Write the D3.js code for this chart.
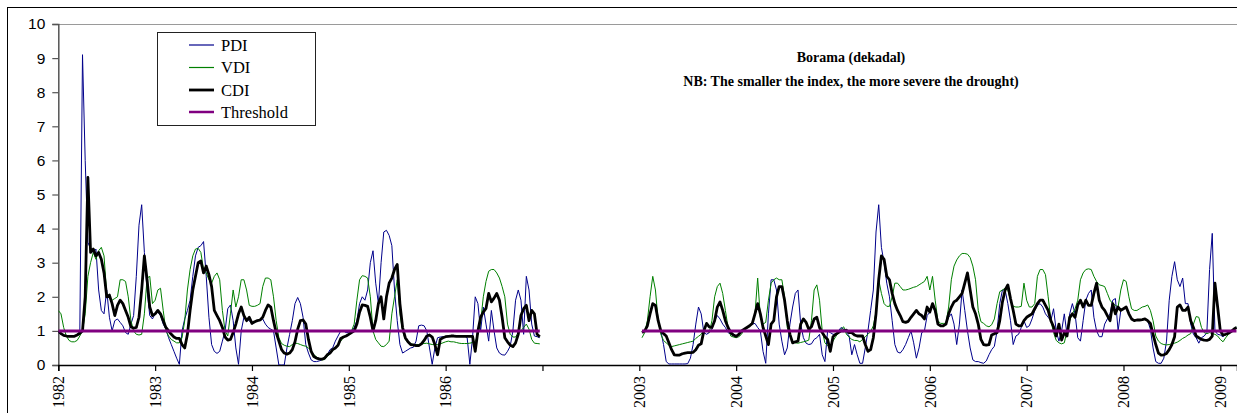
<!DOCTYPE html>
<html>
<head>
<meta charset="utf-8">
<script src="https://cdn.jsdelivr.net/npm/d3@7"></script>
<style>
  html, body { margin: 0; padding: 0; background: #fff; }
  svg { display: block; }
</style>
</head>
<body>
<svg id="chart" width="1237" height="413"></svg>
<script>
// Borama dekadal drought indices (PDI, VDI, CDI) with the drought threshold.
// Dekads are counted from the first dekad of 1982; the axis jumps one blank
// year between 1986 and 2003.

const dekadsPerYear = 36;
const tickLabels = ["1982", "1983", "1984", "1985", "1986", "", "2003", "2004", "2005", "2006", "2007", "2008", "2009"];
const yTicks = [0, 1, 2, 3, 4, 5, 6, 7, 8, 9, 10];

// first dekad index of each observation block
const start1 = 0;     // 1982-1986
const start2 = 217;   // 2003-2009

const pdi1 = [0.95,0.9,0.87,0.85,0.84,0.84,0.85,0.88,1.0,9.1,6.0,3.6,3.4,3.3,3.4,2.2,1.6,1.5,2.2,1.4,
  1.0,1.3,1.35,1.25,1.15,0.95,0.9,1.2,1.45,2.6,4.1,4.7,3.3,2.2,1.45,1.35,1.5,1.55,1.45,1.2,
  1.05,0.8,0.6,0.4,0.2,0.02,1.0,1.35,1.6,1.9,2.6,3.2,3.45,3.5,3.62,2.6,1.4,0.6,0.4,0.34,
  0.4,0.7,1.0,1.65,1.76,1.3,0.5,0.02,1.0,1.4,1.35,1.3,1.2,1.25,1.3,1.3,1.35,1.2,1.1,1.05,
  1.0,0.5,0.0,0.0,0.0,0.5,0.9,1.3,1.8,1.98,1.8,1.4,0.6,0.35,0.15,0.1,0.1,0.12,0.15,0.2,
  0.3,0.45,0.5,0.7,0.85,1.0,1.0,0.95,0.95,1.0,1.1,1.3,1.8,2.0,1.9,2.2,3.0,3.35,2.4,1.8,
  3.0,3.9,3.95,3.8,3.5,2.2,1.3,0.6,0.35,0.4,0.45,0.5,0.52,0.7,1.15,1.17,1.15,1.0,0.5,0.02,
  0.5,0.8,0.82,0.83,0.84,0.84,0.85,0.85,0.85,0.85,0.85,0.85,0.8,0.02,0.8,2.0,1.8,1.0,1.7,1.2,
  0.7,1.6,1.0,0.5,0.35,0.3,0.29,0.4,0.55,1.0,1.9,2.2,1.9,0.9,2.6,2.2,1.2,0.85,0.83,0.8];

const vdi1 = [1.6,1.5,1.1,0.85,0.72,0.68,0.68,0.72,0.85,1.0,1.5,2.6,3.0,3.3,3.1,3.35,3.45,3.2,2.1,1.95,
  1.9,1.95,2.0,2.5,2.5,2.45,2.0,1.3,1.0,0.9,0.88,0.9,1.5,2.55,2.6,1.8,1.9,2.2,2.25,1.6,
  1.0,0.85,0.75,0.7,0.65,0.65,0.8,1.3,2.2,2.8,3.2,3.4,3.42,3.3,2.8,2.7,2.5,2.4,2.6,2.7,
  2.5,1.6,1.0,0.85,1.5,2.2,1.7,2.0,2.5,2.5,2.2,1.75,1.72,1.72,1.75,1.8,2.3,2.55,2.55,2.5,
  2.0,1.3,0.8,0.63,0.58,0.55,0.54,0.6,0.64,0.63,0.6,0.57,0.55,0.5,0.42,0.3,0.24,0.18,0.15,0.16,
  0.25,0.32,0.42,0.5,0.6,0.7,0.8,0.85,0.9,1.0,1.2,1.9,2.5,2.62,2.6,2.55,2.0,1.0,0.75,0.65,
  0.55,0.54,0.6,0.7,1.5,2.0,2.5,1.5,1.0,0.75,0.66,0.63,0.6,0.6,0.6,0.62,0.63,0.64,0.62,0.6,
  0.6,0.6,0.62,0.65,0.68,0.7,0.68,0.68,0.66,0.64,0.63,0.63,0.63,0.64,0.66,0.68,0.9,1.25,2.0,2.45,
  2.75,2.8,2.8,2.7,2.55,2.3,2.0,1.2,0.9,0.82,0.82,0.95,1.0,1.1,1.2,1.05,0.75,0.64,0.63,0.62];

const cdi1 = [1.0,0.92,0.87,0.85,0.84,0.84,0.84,0.88,0.93,1.0,2.0,5.5,3.3,3.4,3.2,3.3,3.1,2.7,2.0,2.05,
  1.8,1.45,1.75,1.9,1.8,1.6,1.4,1.12,1.08,1.1,1.4,2.2,3.2,2.5,1.7,1.45,1.5,1.6,1.5,1.3,
  1.1,1.0,0.9,0.82,0.78,0.78,0.6,0.5,0.9,1.6,2.2,2.6,3.0,3.05,2.7,2.9,2.65,2.3,1.6,1.45,
  1.3,1.1,0.82,0.73,0.75,0.95,1.2,1.5,1.7,1.45,1.3,1.4,1.22,1.27,1.3,1.32,1.4,1.6,1.76,1.7,
  1.3,0.95,0.7,0.45,0.35,0.32,0.35,0.45,0.68,1.05,1.3,1.32,1.2,0.75,0.4,0.25,0.2,0.18,0.17,0.2,
  0.3,0.35,0.45,0.5,0.58,0.78,0.82,0.85,0.9,0.95,1.0,1.2,1.55,1.76,1.75,1.72,1.4,1.0,1.3,1.8,
  2.0,1.35,2.0,2.4,2.55,2.8,2.95,1.8,1.1,0.8,0.68,0.6,0.59,0.57,0.57,0.62,0.72,0.85,0.88,0.82,
  0.6,0.3,0.75,0.8,0.83,0.84,0.85,0.85,0.84,0.84,0.84,0.84,0.84,0.84,0.84,0.4,1.0,1.4,1.55,1.66,
  2.1,1.85,1.96,2.1,1.9,1.4,0.8,0.68,0.58,0.54,0.65,0.9,1.45,1.65,1.75,1.3,1.6,1.5,0.9,0.83];

const pdi2 = [0.95,1.0,1.15,1.5,1.8,1.7,1.3,1.0,0.6,0.1,0.03,0.03,0.03,0.03,0.03,0.03,0.03,0.04,0.2,0.6,
  1.2,1.7,1.5,0.95,0.9,0.95,1.05,1.3,1.45,1.35,1.2,1.1,0.95,0.9,0.86,0.85,0.9,1.0,1.05,1.08,
  1.15,1.2,1.22,1.1,1.0,0.4,0.05,1.5,2.5,2.5,2.2,1.2,0.7,0.3,0.5,1.2,1.7,2.1,2.2,1.2,
  0.8,0.64,0.6,0.62,0.75,0.8,0.9,0.3,0.1,1.0,0.95,0.9,0.9,1.0,1.1,1.05,0.95,0.85,0.3,0.6,
  0.3,0.05,0.05,0.5,1.0,1.6,2.2,3.9,4.7,3.45,3.0,2.4,2.0,1.3,0.6,0.38,0.35,0.45,0.6,0.8,
  1.0,0.65,0.2,0.5,0.95,1.0,1.45,1.55,1.75,1.55,1.2,1.15,1.15,1.2,1.4,1.5,1.2,0.6,1.2,2.2,
  1.6,1.0,0.5,0.15,0.1,0.1,0.07,0.05,0.12,0.3,0.45,0.55,1.0,1.8,2.2,2.2,1.8,1.3,0.6,0.85,
  0.9,1.1,1.3,1.1,1.15,1.35,1.6,1.75,1.8,1.7,1.5,1.4,1.3,1.65,1.0,0.7,1.0,1.5,0.9,1.5,
  1.8,1.5,0.8,0.7,1.3,1.9,2.1,2.2,1.4,1.0,0.83,0.83,1.2,1.35,1.5,1.9,1.95,1.0,1.6,1.65,
  1.7,1.5,1.35,1.3,1.32,1.32,1.33,1.35,1.3,1.05,0.5,0.1,0.05,0.05,0.2,0.7,1.9,2.6,3.03,2.5,
  2.3,2.55,1.8,1.8,1.2,0.9,0.8,0.64,0.8,0.85,0.95,2.8,3.86,1.0,0.9,0.88,0.83,0.9,0.98,1.0,
  1.05,1.1];

const vdi2 = [0.8,0.95,1.3,2.0,2.6,2.2,1.3,0.9,0.72,0.65,0.58,0.54,0.56,0.58,0.6,0.62,0.64,0.66,0.68,0.7,
  0.78,0.84,0.9,1.05,1.0,0.95,1.3,2.0,2.3,2.4,2.1,1.6,1.1,0.85,0.82,0.8,0.83,0.9,1.05,1.1,
  1.12,1.25,1.5,2.55,1.4,1.2,1.25,1.9,2.4,2.5,2.55,2.5,2.5,2.0,1.1,0.85,0.7,0.65,0.64,0.66,
  0.68,0.7,0.73,1.3,2.2,2.35,1.9,1.0,0.65,0.57,0.54,0.7,0.83,0.95,1.05,1.12,0.9,0.82,0.75,0.72,
  0.72,0.68,0.75,0.83,0.9,0.98,1.15,1.55,2.5,2.1,1.8,1.72,1.72,2.0,2.4,2.4,2.3,2.2,2.2,2.22,
  2.25,2.28,2.3,2.35,2.4,2.45,2.6,2.2,2.6,1.9,1.3,1.22,1.22,1.22,1.7,2.5,2.9,3.08,3.2,3.27,
  3.27,3.25,3.15,2.9,2.5,1.6,1.27,1.22,1.15,1.12,1.18,1.35,1.8,2.15,2.2,2.25,2.2,1.9,1.72,1.7,
  1.7,1.72,2.4,1.9,1.7,1.7,1.8,2.6,2.8,2.8,2.65,2.0,1.3,0.95,0.72,0.65,0.62,0.65,1.0,1.3,
  1.5,1.65,1.9,2.5,2.7,2.8,2.82,2.8,2.6,2.45,2.35,2.33,2.3,2.1,1.9,1.8,1.75,1.7,2.2,2.5,
  2.45,2.0,1.65,1.6,1.6,1.65,1.7,1.72,1.76,1.6,1.3,0.85,0.7,0.63,0.6,0.59,0.6,0.62,0.64,0.67,
  0.72,0.78,0.82,0.88,0.92,1.2,1.42,1.4,1.1,0.95,0.92,0.95,0.92,0.9,0.85,0.75,0.68,0.8,0.9,1.0,
  1.05,1.12];

const cdi2 = [0.95,1.0,1.15,1.5,1.8,1.75,1.3,1.0,0.92,0.85,0.65,0.45,0.3,0.29,0.29,0.33,0.35,0.36,0.36,0.37,
  0.45,0.58,0.62,1.0,1.22,1.12,1.1,1.3,1.7,1.85,1.6,1.3,1.1,0.95,0.88,0.84,0.9,1.0,1.05,1.1,
  1.15,1.22,1.5,1.8,1.5,1.1,0.85,0.6,1.2,1.3,2.0,2.3,2.3,1.9,1.3,0.9,0.65,0.68,0.7,1.2,
  1.35,1.25,1.05,1.12,1.35,1.4,1.1,0.95,0.83,0.75,0.4,0.83,0.9,0.95,1.0,1.0,1.02,0.95,0.95,0.88,
  0.85,0.85,0.85,0.6,0.4,0.45,0.8,1.5,2.5,3.2,3.1,2.6,2.5,2.1,1.8,1.6,1.45,1.27,1.25,1.28,
  1.4,1.5,1.6,1.5,1.45,1.35,1.7,1.55,1.8,1.6,1.2,1.15,1.15,1.2,1.5,1.7,1.85,1.9,2.0,2.1,
  2.4,2.7,2.2,1.7,1.5,1.2,0.75,0.6,0.58,0.6,0.88,0.92,0.95,1.3,1.85,2.2,2.35,1.95,1.6,1.2,
  1.15,1.15,1.3,1.4,1.45,1.5,1.65,1.8,1.9,1.9,1.75,1.6,1.3,1.12,0.85,1.2,0.73,0.95,0.85,1.4,
  1.5,1.4,1.76,1.9,1.7,1.9,1.75,1.75,2.1,2.4,1.9,1.7,1.6,1.45,1.3,1.8,1.5,1.7,1.6,1.65,
  1.7,1.5,1.35,1.3,1.32,1.32,1.33,1.35,1.3,1.22,0.9,0.6,0.35,0.29,0.3,0.34,0.45,0.6,0.83,1.7,
  1.76,1.6,1.6,1.7,1.3,1.1,0.85,0.8,0.75,0.73,0.72,0.75,0.85,2.4,1.7,1.0,0.88,0.9,0.93,0.98,
  1.05,1.1];

const threshold = 1;

// layout
const W = 1237, H = 413;
const plot = { left: 58.3, right: 1237, top: 24, bottom: 365 };
const lastDekad = 438.2;

const svg = d3.select("#chart");

const x = d3.scaleLinear().domain([0, lastDekad]).range([plot.left, plot.right]);
const y = d3.scaleLinear().domain([0, 10]).range([plot.bottom, plot.top]);

// chart frame (its right and bottom edges run past the page)
svg.append("rect")
  .attr("x", 7.5).attr("y", 7.5)
  .attr("width", W + 10).attr("height", H + 10)
  .attr("fill", "none").attr("stroke", "#000").attr("stroke-width", 1);

// top border of the plot area
svg.append("line")
  .attr("x1", plot.left).attr("x2", plot.right)
  .attr("y1", y(10) + 0.5).attr("y2", y(10) + 0.5)
  .attr("stroke", "#9a9a9a").attr("stroke-width", 1.2);

// y axis
const yAxis = svg.append("g")
  .attr("transform", `translate(${plot.left},0)`)
  .call(d3.axisLeft(y).tickValues(yTicks).tickSize(6).tickPadding(7).tickFormat(d3.format("d")));
yAxis.select(".domain").attr("stroke", "#555").attr("stroke-width", 1.5);
yAxis.selectAll(".tick line").attr("stroke", "#555").attr("stroke-width", 1.2);
yAxis.selectAll("text")
  .attr("font-family", "'Liberation Sans', Arial, sans-serif")
  .attr("font-size", 15.5).attr("fill", "#000");

// x axis: one tick per year
const yearTicks = tickLabels.map((_, k) => k * dekadsPerYear);
const xAxis = svg.append("g")
  .attr("transform", `translate(0,${plot.bottom})`)
  .call(d3.axisBottom(x).tickValues(yearTicks).tickSize(6)
    .tickFormat((d, k) => tickLabels[k]));
xAxis.select(".domain").attr("stroke", "#000").attr("stroke-width", 1.5);
xAxis.selectAll(".tick line").attr("stroke", "#000").attr("stroke-width", 1.2);
xAxis.selectAll("text")
  .attr("font-family", "'Liberation Serif', 'Times New Roman', serif")
  .attr("font-size", 16).attr("fill", "#000")
  .attr("transform", "rotate(-90)")
  .attr("x", -11).attr("y", 0).attr("dy", "0.33em")
  .style("text-anchor", "end");

// clip lines to the plot area
svg.append("clipPath").attr("id", "plotClip")
  .append("rect")
  .attr("x", plot.left).attr("y", plot.top)
  .attr("width", plot.right - plot.left).attr("height", plot.bottom - plot.top);

const line = d3.line()
  .x(d => x(d.i))
  .y(d => y(d.v));

function block(values, start) {
  return values.map((v, k) => ({ i: start + k, v }));
}

const series = [
  { name: "PDI", color: "#00008b", width: 1, blocks: [block(pdi1, start1), block(pdi2, start2)] },
  { name: "VDI", color: "#008000", width: 1, blocks: [block(vdi1, start1), block(vdi2, start2)] },
  { name: "CDI", color: "#000000", width: 2.8, blocks: [block(cdi1, start1), block(cdi2, start2)] },
  { name: "Threshold", color: "#800080", width: 3,
    blocks: [block(pdi1.map(() => threshold), start1), block(pdi2.map(() => threshold), start2)] }
];

const lines = svg.append("g").attr("clip-path", "url(#plotClip)");
series.forEach(s => {
  s.blocks.forEach(b => {
    lines.append("path")
      .datum(b)
      .attr("d", line)
      .attr("fill", "none")
      .attr("stroke", s.color)
      .attr("stroke-width", s.width)
      .attr("stroke-linejoin", "round");
  });
});

// legend
const legend = svg.append("g");
legend.append("rect")
  .attr("x", 157.5).attr("y", 32.5).attr("width", 158).attr("height", 93)
  .attr("fill", "#fff").attr("stroke", "#222").attr("stroke-width", 1);
const legendRows = [45, 67.5, 90, 112];
series.forEach((s, k) => {
  legend.append("line")
    .attr("x1", 189).attr("x2", 214)
    .attr("y1", legendRows[k]).attr("y2", legendRows[k])
    .attr("stroke", s.color)
    .attr("stroke-width", s.name === "CDI" ? 2.8 : (s.name === "Threshold" ? 2.5 : 1.2));
  legend.append("text")
    .attr("x", 221).attr("y", legendRows[k]).attr("dy", "0.35em")
    .attr("font-family", "'Liberation Serif', 'Times New Roman', serif")
    .attr("font-size", 16.5).attr("fill", "#000")
    .text(s.name);
});

// title
const title = svg.append("g")
  .attr("font-family", "'Liberation Serif', 'Times New Roman', serif")
  .attr("font-weight", "bold").attr("font-size", 14)
  .attr("text-anchor", "middle").attr("fill", "#000");
title.append("text").attr("x", 851).attr("y", 62).text("Borama (dekadal)");
title.append("text").attr("x", 851).attr("y", 86).text("NB: The smaller the index, the more severe the drought)");
</script>
</body>
</html>
